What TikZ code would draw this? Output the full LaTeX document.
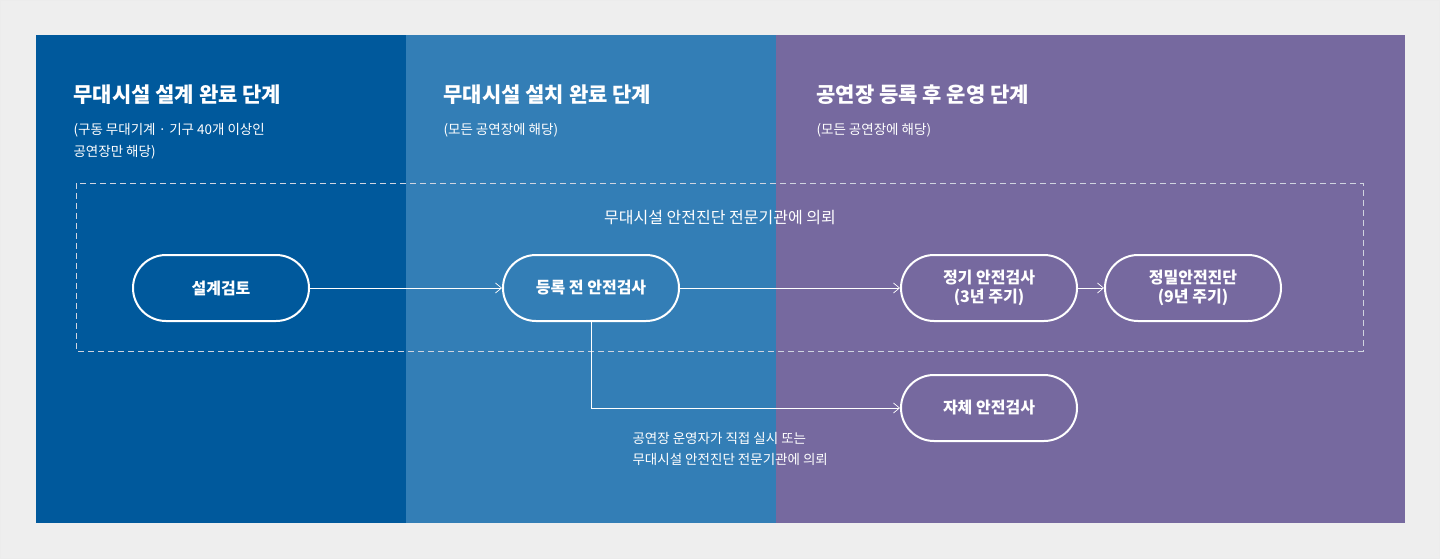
\documentclass[tikz,border=0pt]{standalone}
\usepackage{fontspec}
\setmainfont{Noto Sans CJK KR}
\usetikzlibrary{arrows.meta}
\definecolor{bgc}{HTML}{EEEEEE}
\definecolor{pa}{HTML}{00599C}
\definecolor{pb}{HTML}{337EB6}
\definecolor{pc}{HTML}{76699F}
\definecolor{dashc}{HTML}{D0D4E0}
\tikzset{
  pill/.style={draw=white,line width=2pt,rounded corners=33pt,minimum width=176pt,minimum height=66pt,font=\fontsize{16}{19}\selectfont\bfseries,text=white,align=center},
  ttl/.style={anchor=west,font=\fontsize{21}{24}\selectfont\bfseries,text=white},
  sub/.style={anchor=north west,font=\fontsize{13.5}{22}\selectfont,text=white,align=left},
  conn/.style={draw=white,line width=0.7pt,-{Straight Barb[length=6pt,width=10pt]}}
}
\begin{document}
\begin{tikzpicture}[x=1pt,y=-1pt]
\fill[bgc] (0,0) rectangle (1440,559);
\draw[white!85!gray] (0.5,0.5) rectangle (1439.5,558.5);
\fill[pa] (36,35) rectangle (406,523);
\fill[pb] (406,35) rectangle (776,523);
\fill[pc] (776,35) rectangle (1405,523);
\node[ttl] (t1) at (70,95) {무대시설 설계 완료 단계};
\node[ttl] (t2) at (440,95) {무대시설 설치 완료 단계};
\node[ttl] (t3) at (813,95) {공연장 등록 후 운영 단계};
\node[sub] (s1) at (70,120) {(구동 무대기계 · 기구 40개 이상인\\공연장만 해당)};
\node[sub] (s2) at (440,120) {(모든 공연장에 해당)};
\node[sub] (s3) at (813,120) {(모든 공연장에 해당)};
\draw[dashc,dashed,line width=1pt,dash pattern=on 6pt off 4pt] (76,183) rectangle (1363,351);
\node[font=\fontsize{16}{19}\selectfont,text=white] (lab) at (720,218) {무대시설 안전진단 전문기관에 의뢰};
\node[pill,fill=pa] (a) at (221,288) {설계검토};
\node[pill,fill=pb] (b) at (591,288) {등록 전 안전검사};
\node[pill,fill=pc] (c) at (989,288) {정기 안전검사\\(3년 주기)};
\node[pill,fill=pc] (d) at (1193,288) {정밀안전진단\\(9년 주기)};
\node[pill,fill=pc] (e) at (989,408) {자체 안전검사};
\draw[conn] (a) -- (b);
\draw[conn] (b) -- (c);
\draw[conn] (c) -- (d);
\draw[conn] (b.south) |- (e.west);
\node[sub,font=\fontsize{13.5}{21}\selectfont] (note) at (629,429) {공연장 운영자가 직접 실시 또는\\무대시설 안전진단 전문기관에 의뢰};
\end{tikzpicture}
\end{document}
